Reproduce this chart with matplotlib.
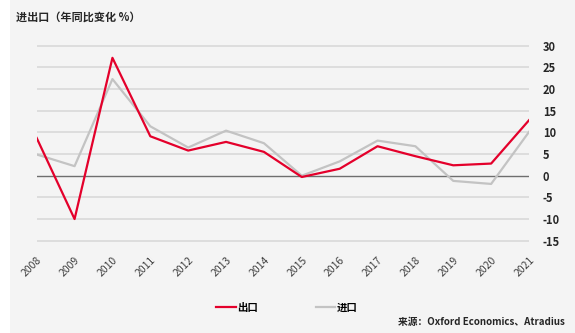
import matplotlib
matplotlib.use("Agg")
import matplotlib.pyplot as plt
from matplotlib.patches import Rectangle

plt.rcParams['font.family'] = ['Noto Sans CJK SC', 'DejaVu Sans']

# 数据
years = [2008, 2009, 2010, 2011, 2012, 2013, 2014, 2015, 2016, 2017, 2018, 2019, 2020, 2021]
exports = [8.7, -10.0, 27.2, 9.1, 5.8, 7.8, 5.5, -0.3, 1.6, 6.8, 4.5, 2.4, 2.8, 12.8]
imports = [4.9, 2.2, 22.3, 11.4, 6.5, 10.4, 7.5, 0.0, 3.3, 8.1, 6.8, -1.2, -1.9, 10.1]
yticks = [-15, -10, -5, 0, 5, 10, 15, 20, 25, 30]

bg = '#f4f4f4'
fig = plt.figure(figsize=(5.75, 3.33), dpi=100, facecolor=bg)
# 左侧白边
fig.patches.append(Rectangle((0, 0), 10 / 575, 1, transform=fig.transFigure,
                             facecolor='white', edgecolor='none', zorder=0))

ax = fig.add_axes([36.7 / 575, 1 - 242 / 333, (529 - 36.7) / 575, (242 - 44.4) / 333])
ax.set_facecolor(bg)

ax.plot(years, imports, color='#c3c3c3', lw=1.6, label='进口', zorder=3)
ax.plot(years, exports, color='#e4002b', lw=1.6, label='出口', zorder=4)
ax.axhline(0, color='#6e6e6e', lw=1.0, zorder=2)

ax.set_xlim(years[0], years[-1])
ax.set_ylim(-15.3, 30.3)
ax.set_yticks(yticks)
ax.set_yticklabels([str(v) for v in yticks], fontsize=8, fontweight='bold', color='#262626')
ax.yaxis.tick_right()
ax.tick_params(axis='y', length=0, pad=10)
for v in yticks:
    if v != 0:
        ax.axhline(v, color='#d6d6d6', lw=1.1, zorder=1)

ax.set_xticks(years)
ax.set_xticklabels([str(y) for y in years], rotation=45, ha='right',
                   rotation_mode='anchor', fontsize=7.5, color='#404040')
ax.tick_params(axis='x', length=0, pad=9)

for s in ax.spines.values():
    s.set_visible(False)

fig.text(16 / 575, 1 - 17 / 333, '进出口（年同比变化 %）', fontsize=8, fontweight='bold',
         color='#262626', ha='left', va='center')

h, l = ax.get_legend_handles_labels()
leg = fig.legend(h[::-1], l[::-1], loc='center', bbox_to_anchor=(0.499, 0.075), ncol=2,
                 frameon=False, handlelength=1.9, handletextpad=0.15,
                 columnspacing=5.5, prop={'weight': 'bold', 'size': 7.5})

fig.text(565 / 575, 1 - 322 / 333, '来源：Oxford Economics、Atradius', fontsize=7,
         fontweight='bold', color='#262626', ha='right', va='center')

fig.savefig('out.png', dpi=100, facecolor=bg)
